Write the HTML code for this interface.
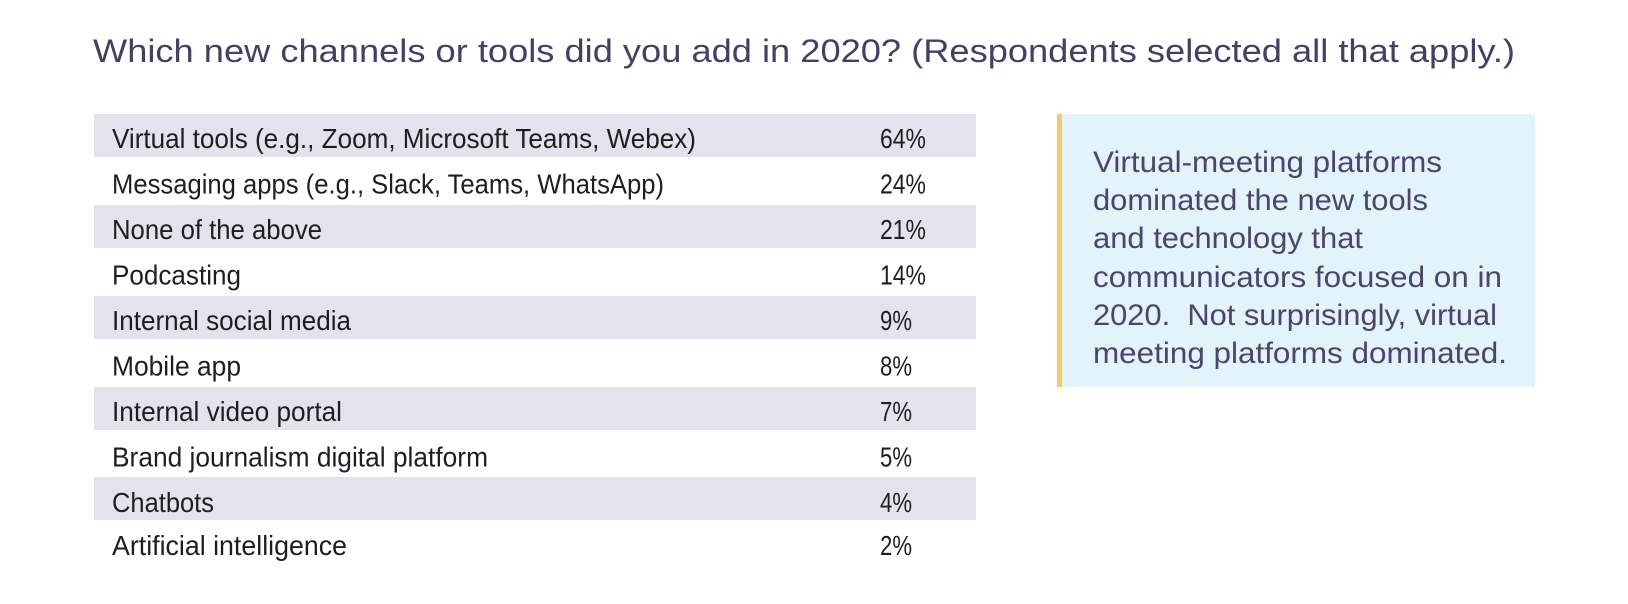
<!DOCTYPE html>
<html><head><meta charset="utf-8"><style>
html,body{margin:0;padding:0;background:#fff;width:1628px;height:604px;overflow:hidden}
svg{display:block}
</style></head><body>
<svg width="1628" height="604" viewBox="0 0 1628 604" xmlns="http://www.w3.org/2000/svg" font-family="Liberation Sans, sans-serif">
<rect width="1628" height="604" fill="#fff"/>
<text x="93" y="62" font-size="32" fill="#463d6b" textLength="1422" lengthAdjust="spacingAndGlyphs">Which new channels or tools did you add in 2020? (Respondents selected all that apply.)</text>
<g fill="#e4e2ec">
<rect x="94" y="114" width="882" height="43"/>
<rect x="94" y="205" width="882" height="43"/>
<rect x="94" y="296" width="882" height="43"/>
<rect x="94" y="387" width="882" height="43"/>
<rect x="94" y="477" width="882" height="43"/>
</g>
<g font-size="28" fill="#1e1e22">
<text x="112" y="148" textLength="584" lengthAdjust="spacingAndGlyphs">Virtual tools (e.g., Zoom, Microsoft Teams, Webex)</text>
<text x="112" y="193.5" textLength="552" lengthAdjust="spacingAndGlyphs">Messaging apps (e.g., Slack, Teams, WhatsApp)</text>
<text x="112" y="239" textLength="210" lengthAdjust="spacingAndGlyphs">None of the above</text>
<text x="112" y="284.5" textLength="129" lengthAdjust="spacingAndGlyphs">Podcasting</text>
<text x="112" y="330" textLength="239" lengthAdjust="spacingAndGlyphs">Internal social media</text>
<text x="112" y="375.5" textLength="129" lengthAdjust="spacingAndGlyphs">Mobile app</text>
<text x="112" y="421" textLength="230" lengthAdjust="spacingAndGlyphs">Internal video portal</text>
<text x="112" y="466.5" textLength="376" lengthAdjust="spacingAndGlyphs">Brand journalism digital platform</text>
<text x="112" y="512" textLength="102" lengthAdjust="spacingAndGlyphs">Chatbots</text>
<text x="112" y="555" textLength="235" lengthAdjust="spacingAndGlyphs">Artificial intelligence</text>
<text x="880" y="148" textLength="46" lengthAdjust="spacingAndGlyphs">64%</text>
<text x="880" y="193.5" textLength="46" lengthAdjust="spacingAndGlyphs">24%</text>
<text x="880" y="239" textLength="46" lengthAdjust="spacingAndGlyphs">21%</text>
<text x="880" y="284.5" textLength="46" lengthAdjust="spacingAndGlyphs">14%</text>
<text x="880" y="330" textLength="32" lengthAdjust="spacingAndGlyphs">9%</text>
<text x="880" y="375.5" textLength="32" lengthAdjust="spacingAndGlyphs">8%</text>
<text x="880" y="421" textLength="32" lengthAdjust="spacingAndGlyphs">7%</text>
<text x="880" y="466.5" textLength="32" lengthAdjust="spacingAndGlyphs">5%</text>
<text x="880" y="512" textLength="32" lengthAdjust="spacingAndGlyphs">4%</text>
<text x="880" y="555" textLength="32" lengthAdjust="spacingAndGlyphs">2%</text>
</g>
<rect x="1057" y="114" width="478" height="273" fill="#e2f3fa"/>
<rect x="1057" y="114" width="5" height="273" fill="#f5cb6b"/>
<g font-size="30" fill="#4a4470">
<text x="1093" y="172" textLength="349" lengthAdjust="spacingAndGlyphs">Virtual-meeting platforms</text>
<text x="1093" y="210" textLength="335" lengthAdjust="spacingAndGlyphs">dominated the new tools</text>
<text x="1093" y="248" textLength="270" lengthAdjust="spacingAndGlyphs">and technology that</text>
<text x="1093" y="287" textLength="409" lengthAdjust="spacingAndGlyphs">communicators focused on in</text>
<text x="1093" y="325" textLength="404" lengthAdjust="spacingAndGlyphs" xml:space="preserve">2020.  Not surprisingly, virtual</text>
<text x="1093" y="363" textLength="414" lengthAdjust="spacingAndGlyphs">meeting platforms dominated.</text>
</g>
</svg>
</body></html>
